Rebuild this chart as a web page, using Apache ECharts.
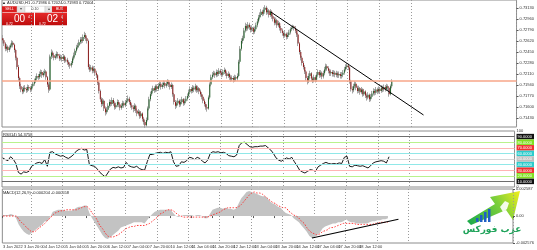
<!DOCTYPE html>
<html><head><meta charset="utf-8">
<script src="https://cdn.jsdelivr.net/npm/echarts@6/dist/echarts.min.js"></script>
<style>html,body{margin:0;padding:0;background:#fff;overflow:hidden}#c{width:537px;height:250px}</style>
</head><body><div id="c"></div>
<script>
// ---- data (AUDUSD H1) ----
const firstOpen = 0.7266;
const closes = [
0.7263,0.7258,0.7250,0.7253,0.7248,0.7252,0.7255,0.7259,0.7256,0.7248,
0.7236,0.7222,0.7205,0.7192,0.7187,0.7184,0.7190,0.7188,0.7186,0.7191,
0.7189,0.7187,0.7192,0.7196,0.7200,0.7204,0.7208,0.7206,0.7211,0.7214,
0.7209,0.7212,0.7215,0.7206,0.7195,0.7187,0.7238,0.7244,0.7240,0.7236,
0.7238,0.7242,0.7239,0.7235,0.7237,0.7234,0.7238,0.7232,0.7233,0.7229,
0.7226,0.7224,0.7228,0.7235,0.7240,0.7247,0.7252,0.7255,0.7260,0.7264,
0.7262,0.7268,0.7271,0.7266,0.7262,0.7222,0.7218,0.7221,0.7216,0.7219,
0.7213,0.7209,0.7198,0.7185,0.7172,0.7165,0.7170,0.7158,0.7152,0.7156,
0.7162,0.7168,0.7165,0.7171,0.7166,0.7160,0.7163,0.7168,0.7164,0.7159,
0.7162,0.7166,0.7163,0.7167,0.7170,0.7173,0.7168,0.7163,0.7160,0.7157,
0.7162,0.7155,0.7150,0.7153,0.7146,0.7150,0.7142,0.7137,0.7132,0.7140,
0.7158,0.7172,0.7180,0.7185,0.7189,0.7186,0.7192,0.7188,0.7193,0.7196,
0.7191,0.7194,0.7197,0.7193,0.7196,0.7199,0.7195,0.7191,0.7194,0.7180,
0.7168,0.7162,0.7166,0.7170,0.7164,0.7168,0.7172,0.7166,0.7169,0.7173,
0.7177,0.7183,0.7188,0.7185,0.7190,0.7187,0.7192,0.7186,0.7189,0.7184,
0.7180,0.7176,0.7170,0.7165,0.7160,0.7158,0.7175,0.7195,0.7206,0.7210,
0.7212,0.7209,0.7214,0.7211,0.7216,0.7213,0.7210,0.7214,0.7217,0.7212,
0.7208,0.7211,0.7206,0.7203,0.7205,0.7202,0.7206,0.7204,0.7208,0.7230,
0.7250,0.7262,0.7266,0.7278,0.7285,0.7281,0.7287,0.7283,0.7279,0.7282,
0.7276,0.7280,0.7286,0.7292,0.7298,0.7302,0.7307,0.7304,0.7310,0.7313,
0.7306,0.7309,0.7302,0.7307,0.7300,0.7296,0.7290,0.7294,0.7286,0.7289,
0.7282,0.7278,0.7274,0.7270,0.7273,0.7268,0.7271,0.7275,0.7280,0.7282,
0.7284,0.7282,0.7278,0.7272,0.7258,0.7245,0.7236,0.7228,0.7222,0.7215,
0.7205,0.7200,0.7208,0.7212,0.7204,0.7201,0.7206,0.7202,0.7210,0.7214,
0.7209,0.7213,0.7207,0.7212,0.7218,0.7223,0.7220,0.7216,0.7212,0.7214,
0.7211,0.7213,0.7210,0.7212,0.7209,0.7211,0.7208,0.7210,0.7213,0.7218,
0.7222,0.7224,0.7221,0.7200,0.7188,0.7186,0.7192,0.7196,0.7190,0.7185,
0.7189,0.7183,0.7187,0.7180,0.7184,0.7178,0.7175,0.7179,0.7172,0.7176,
0.7181,0.7185,0.7182,0.7187,0.7184,0.7188,0.7185,0.7190,0.7187,0.7191,
0.7188,0.7192,0.7190,0.7180,0.7192,0.7200];
const highs = [
0.7271,0.7266,0.7260,0.7257,0.7255,0.7255,0.7258,0.7263,0.7262,0.7258,
0.7250,0.7238,0.7225,0.7207,0.7196,0.7191,0.7193,0.7194,0.7191,0.7195,
0.7194,0.7192,0.7195,0.7199,0.7204,0.7208,0.7212,0.7211,0.7215,0.7218,
0.7217,0.7216,0.7219,0.7217,0.7208,0.7198,0.7241,0.7249,0.7247,0.7243,
0.7242,0.7246,0.7245,0.7242,0.7241,0.7240,0.7242,0.7240,0.7237,0.7236,
0.7232,0.7229,0.7231,0.7238,0.7244,0.7250,0.7256,0.7259,0.7264,0.7268,
0.7268,0.7272,0.7276,0.7274,0.7269,0.7264,0.7226,0.7225,0.7224,0.7223,
0.7221,0.7216,0.7211,0.7200,0.7187,0.7175,0.7174,0.7172,0.7161,0.7160,
0.7166,0.7172,0.7171,0.7175,0.7174,0.7169,0.7167,0.7172,0.7171,0.7167,
0.7166,0.7170,0.7169,0.7171,0.7174,0.7178,0.7176,0.7171,0.7166,0.7163,
0.7166,0.7164,0.7158,0.7157,0.7155,0.7154,0.7152,0.7145,0.7140,0.7144,
0.7161,0.7176,0.7184,0.7189,0.7193,0.7192,0.7195,0.7195,0.7197,0.7200,
0.7199,0.7198,0.7201,0.7200,0.7200,0.7203,0.7202,0.7198,0.7198,0.7196,
0.7182,0.7171,0.7170,0.7174,0.7172,0.7172,0.7176,0.7174,0.7173,0.7177,
0.7181,0.7187,0.7192,0.7191,0.7194,0.7193,0.7196,0.7194,0.7193,0.7191,
0.7187,0.7183,0.7179,0.7173,0.7168,0.7164,0.7178,0.7198,0.7210,0.7214,
0.7216,0.7215,0.7218,0.7217,0.7220,0.7219,0.7216,0.7218,0.7221,0.7219,
0.7215,0.7215,0.7213,0.7209,0.7209,0.7208,0.7210,0.7209,0.7212,0.7233,
0.7254,0.7266,0.7270,0.7282,0.7290,0.7288,0.7291,0.7290,0.7286,0.7286,
0.7284,0.7284,0.7290,0.7296,0.7302,0.7306,0.7311,0.7310,0.7314,0.7317,
0.7316,0.7313,0.7311,0.7311,0.7309,0.7303,0.7299,0.7298,0.7296,0.7293,
0.7291,0.7285,0.7281,0.7277,0.7277,0.7275,0.7275,0.7279,0.7283,0.7285,
0.7287,0.7286,0.7285,0.7280,0.7274,0.7260,0.7248,0.7239,0.7231,0.7225,
0.7217,0.7208,0.7212,0.7216,0.7214,0.7207,0.7210,0.7209,0.7214,0.7218,
0.7217,0.7217,0.7215,0.7216,0.7222,0.7227,0.7226,0.7223,0.7219,0.7218,
0.7217,0.7217,0.7216,0.7216,0.7215,0.7215,0.7214,0.7214,0.7217,0.7222,
0.7226,0.7228,0.7227,0.7223,0.7202,0.7192,0.7196,0.7200,0.7199,0.7193,
0.7193,0.7191,0.7191,0.7189,0.7188,0.7186,0.7181,0.7183,0.7181,0.7180,
0.7185,0.7189,0.7188,0.7191,0.7190,0.7192,0.7191,0.7194,0.7193,0.7195,
0.7194,0.7196,0.7195,0.7192,0.7195,0.7203];
const lows = [
0.7258,0.7254,0.7246,0.7247,0.7244,0.7245,0.7249,0.7252,0.7252,0.7244,
0.7232,0.7218,0.7200,0.7188,0.7183,0.7180,0.7181,0.7184,0.7182,0.7183,
0.7185,0.7183,0.7184,0.7189,0.7193,0.7197,0.7201,0.7202,0.7203,0.7207,
0.7205,0.7206,0.7209,0.7202,0.7191,0.7182,0.7185,0.7234,0.7236,0.7232,
0.7233,0.7235,0.7235,0.7231,0.7232,0.7230,0.7231,0.7228,0.7229,0.7225,
0.7222,0.7219,0.7221,0.7225,0.7232,0.7237,0.7244,0.7249,0.7252,0.7257,
0.7258,0.7259,0.7265,0.7262,0.7258,0.7218,0.7214,0.7215,0.7212,0.7213,
0.7209,0.7205,0.7194,0.7181,0.7168,0.7160,0.7162,0.7154,0.7147,0.7149,
0.7153,0.7159,0.7161,0.7162,0.7162,0.7156,0.7157,0.7160,0.7160,0.7155,
0.7156,0.7159,0.7159,0.7160,0.7164,0.7167,0.7164,0.7159,0.7156,0.7152,
0.7154,0.7151,0.7146,0.7147,0.7142,0.7143,0.7138,0.7133,0.7128,0.7130,
0.7138,0.7155,0.7169,0.7177,0.7182,0.7182,0.7183,0.7184,0.7185,0.7190,
0.7187,0.7188,0.7191,0.7189,0.7190,0.7193,0.7191,0.7187,0.7188,0.7176,
0.7164,0.7157,0.7159,0.7163,0.7160,0.7161,0.7165,0.7162,0.7163,0.7166,
0.7170,0.7174,0.7180,0.7181,0.7182,0.7183,0.7184,0.7182,0.7183,0.7180,
0.7176,0.7172,0.7166,0.7161,0.7156,0.7153,0.7156,0.7172,0.7192,0.7203,
0.7207,0.7205,0.7206,0.7207,0.7208,0.7209,0.7206,0.7207,0.7211,0.7208,
0.7204,0.7205,0.7202,0.7199,0.7200,0.7198,0.7199,0.7200,0.7201,0.7206,
0.7227,0.7247,0.7258,0.7263,0.7275,0.7277,0.7278,0.7279,0.7275,0.7276,
0.7272,0.7273,0.7277,0.7283,0.7289,0.7295,0.7299,0.7300,0.7301,0.7307,
0.7302,0.7303,0.7298,0.7299,0.7296,0.7292,0.7286,0.7287,0.7282,0.7283,
0.7278,0.7274,0.7270,0.7266,0.7267,0.7264,0.7265,0.7268,0.7272,0.7277,
0.7280,0.7278,0.7274,0.7268,0.7254,0.7241,0.7232,0.7224,0.7218,0.7211,
0.7201,0.7195,0.7197,0.7204,0.7200,0.7197,0.7198,0.7198,0.7199,0.7207,
0.7205,0.7206,0.7203,0.7204,0.7209,0.7215,0.7216,0.7212,0.7208,0.7208,
0.7207,0.7207,0.7206,0.7206,0.7205,0.7205,0.7204,0.7204,0.7206,0.7210,
0.7215,0.7219,0.7217,0.7196,0.7184,0.7181,0.7183,0.7189,0.7186,0.7181,
0.7182,0.7179,0.7180,0.7176,0.7177,0.7174,0.7170,0.7172,0.7168,0.7169,
0.7173,0.7178,0.7178,0.7179,0.7180,0.7181,0.7181,0.7182,0.7183,0.7184,
0.7184,0.7185,0.7186,0.7176,0.7178,0.7189];
// indicator values, one reading every 2 bars
const rsiValues = [
52,49,47,54,50,42,26,23,27,26,28,37,40,43,44,42,49,37,62,63,
59,57,55,56,53,51,54,58,64,67,69,66,67,40,38,37,32,26,22,18,
25,32,35,34,36,34,35,44,38,36,35,37,33,31,30,45,58,58,60,61,
62,60,62,61,63,45,37,38,45,44,47,53,52,49,53,51,46,43,48,60,
63,62,63,61,62,60,56,55,54,57,74,79,80,76,72,71,72,72,73,73,
74,70,66,60,52,48,46,49,52,50,53,45,38,30,27,25,28,31,30,28,
36,39,42,44,42,41,42,41,43,42,53,55,37,36,39,38,37,38,36,34,
38,43,45,46,47,46,43,54];
const macdMain = [
0.0001,0.0001,0.0001,0.0002,0.0001,-0.0002,-0.0008,-0.0012,-0.0015,-0.0017,
-0.0018,-0.0016,-0.0014,-0.0012,-0.0010,-0.0008,-0.0005,-0.0005,-0.0001,0.0004,
0.0005,0.0006,0.0006,0.0006,0.0005,0.0005,0.0005,0.0006,0.0008,0.0009,
0.0009,0.0010,0.0010,0.0003,-0.0002,-0.0006,-0.0010,-0.0014,-0.0018,-0.0021,
-0.0022,-0.0020,-0.0018,-0.0016,-0.0014,-0.0011,-0.0010,-0.0009,-0.0008,-0.0007,
-0.0006,-0.0006,-0.0006,-0.0006,-0.0007,-0.0004,-0.0001,0.0002,0.0004,0.0005,
0.0006,0.0006,0.0006,0.0006,0.0006,0.0003,0.0000,-0.0001,0.0000,0.0001,
0.0001,0.0001,0.0001,0.0000,0.0001,0.0001,0.0000,-0.0002,-0.0002,0.0002,
0.0006,0.0007,0.0008,0.0008,0.0007,0.0008,0.0007,0.0007,0.0006,0.0007,
0.0012,0.0017,0.0020,0.0023,0.0024,0.0023,0.0022,0.0021,0.0020,0.0019,
0.0019,0.0017,0.0014,0.0012,0.0011,0.0009,0.0008,0.0005,0.0003,0.0002,
0.0001,-0.0002,-0.0004,-0.0006,-0.0009,-0.0012,-0.0015,-0.0019,-0.0021,-0.0020,
-0.0018,-0.0016,-0.0012,-0.0010,-0.0009,-0.0008,-0.0007,-0.0007,-0.0006,-0.0006,
-0.0005,-0.0003,-0.0005,-0.0006,-0.0006,-0.0007,-0.0007,-0.0007,-0.0007,-0.0007,
-0.0006,-0.0005,-0.0005,-0.0004,-0.0004,-0.0003,-0.0003,-0.0002];
const macdSignal = [
0.0000,0.0000,0.0000,0.0000,0.0000,0.0000,-0.0003,-0.0006,-0.0008,-0.0011,
-0.0013,-0.0015,-0.0015,-0.0013,-0.0011,-0.0009,-0.0007,-0.0004,-0.0002,0.0001,
0.0003,0.0004,0.0005,0.0005,0.0006,0.0006,0.0006,0.0006,0.0006,0.0007,
0.0008,0.0009,0.0009,0.0007,0.0003,0.0000,-0.0004,-0.0009,-0.0012,-0.0016,
-0.0019,-0.0020,-0.0020,-0.0019,-0.0018,-0.0016,-0.0014,-0.0012,-0.0011,-0.0010,
-0.0010,-0.0009,-0.0009,-0.0009,-0.0009,-0.0008,-0.0007,-0.0005,-0.0003,-0.0001,
0.0002,0.0003,0.0005,0.0006,0.0006,0.0005,0.0003,0.0001,0.0000,-0.0001,
-0.0001,-0.0001,-0.0001,-0.0001,-0.0001,-0.0001,-0.0001,-0.0001,-0.0001,0.0000,
0.0001,0.0002,0.0003,0.0004,0.0006,0.0007,0.0008,0.0008,0.0008,0.0008,
0.0009,0.0011,0.0014,0.0017,0.0020,0.0022,0.0023,0.0022,0.0022,0.0021,
0.0019,0.0017,0.0015,0.0013,0.0012,0.0010,0.0009,0.0008,0.0008,0.0005,
0.0003,0.0001,0.0000,-0.0002,-0.0005,-0.0007,-0.0011,-0.0014,-0.0016,-0.0017,
-0.0018,-0.0017,-0.0015,-0.0014,-0.0013,-0.0011,-0.0011,-0.0010,-0.0009,-0.0008,
-0.0007,-0.0007,-0.0007,-0.0007,-0.0007,-0.0008,-0.0008,-0.0008,-0.0008,-0.0008,
-0.0008,-0.0008,-0.0007,-0.0007,-0.0006,-0.0006,-0.0006,-0.0006];
const tickLabels = ['3 Jan 2022','3 Jan 20:00','4 Jan 12:00','5 Jan 04:00','5 Jan 20:00','6 Jan 12:00',
 '7 Jan 04:00','7 Jan 20:00','10 Jan 12:00','11 Jan 04:00','11 Jan 20:00','12 Jan 12:00','13 Jan 04:00',
 '13 Jan 20:00','14 Jan 12:00','17 Jan 04:00','17 Jan 20:00','18 Jan 12:00','19 Jan 04:00'];
const priceTicks = [0.73130,0.72960,0.72790,0.72620,0.72450,0.72280,0.72110,0.71940,0.71770,0.71600,0.71430,0.71260];
const rsiLevels = [90,80,70,60,50,40,30,20,10];
const macdTicks = [0.002587,0,-0.002576];
const supportLevel = 0.7201;
const lastPrice = 0.72004;
const priceTrend = [[203,0.73069],[319,0.71479]];
const macdTrend = [[236,-0.0021],[302,-0.0003]];

// ---- chart ----
const SLOTS = 390;
const cats = Array.from({length:SLOTS},(_,i)=>String(i));
const opens = closes.map((c,i)=> i===0 ? firstOpen : closes[i-1]);
const candleData = closes.map((c,i)=>[opens[i],c,lows[i],highs[i]]);
const bodyData = closes.map((c,i)=>[i,opens[i],c]);
const rsiData = rsiValues.map((v,j)=>[j*2,v]);
const macdData = macdMain.map((v,j)=>[j*2,v]);
const sigData = macdSignal.map((v,j)=>[j*2,v]);
const FONT = 'Liberation Sans';
const gridLineAt = (i)=> i>=22 && i<=310 && (i-22)%24===0;
const labelAt = (i)=> i%16===0 && i/16 < tickLabels.length;

function mkX(gi, labels){
  return {
    type:'category', gridIndex:gi, data:cats, boundaryGap:true,
    axisLine:{show:false},
    axisTick: labels ? {show:true, interval:labelAt, length:2, lineStyle:{color:'#555'}} : {show:false},
    axisLabel: labels ? {show:true, interval:labelAt, formatter:(v)=>tickLabels[Number(v)/16]||'',
      fontSize:4, color:'#333', margin:2, align:'left', fontFamily:FONT} : {show:false},
    splitLine:{show:true, interval:gridLineAt, lineStyle:{color:'#9a9a9a', type:[1,2], width:1}}
  };
}
const levelColors = {90:'#6e6e6e',80:'#b9f28c',70:'#ffb4b4',60:'#90e8e8',50:'#d6d6d6',40:'#90e8e8',30:'#ffb4b4',20:'#b9f28c',10:'#6e6e6e'};
const boxBg = {90:'#111',80:'#7fe020',70:'#f03030',60:'#2ccccc',50:'#bdbdbd',40:'#2ccccc',30:'#f03030',20:'#7fe020',10:'#111'};
const rich = {};
rsiLevels.forEach(l=>{ rich['l'+l] = {backgroundColor:boxBg[l], color:'#fff', fontSize:4, padding:[1,2,0.5,1], fontFamily:FONT}; });

const chart = echarts.init(document.getElementById('c'), null, {renderer:'canvas'});
chart.setOption({
  animation:false,
  backgroundColor:'#fff',
  grid:[
    {left:2, right:16, top:0, height:127, show:true, borderColor:'#8c8c8c', borderWidth:1},
    {left:2, right:16, top:131, height:56, show:true, borderColor:'#8c8c8c', borderWidth:1},
    {left:2, right:16, top:189, height:54, show:true, borderColor:'#8c8c8c', borderWidth:1}
  ],
  xAxis:[mkX(0,false), mkX(1,false), mkX(2,true)],
  yAxis:[
    {type:'value', gridIndex:0, position:'right', min:0.71294, max:0.73250, scale:true,
     axisLine:{show:false}, splitLine:{show:false},
     axisTick:{show:true, customValues:priceTicks, length:2, lineStyle:{color:'#555'}},
     axisLabel:{customValues:priceTicks, formatter:(v)=>v.toFixed(5), fontSize:4, color:'#333', margin:3, fontFamily:FONT}},
    {type:'value', gridIndex:1, position:'right', min:0, max:100,
     axisLine:{show:false}, splitLine:{show:false}, axisTick:{show:false},
     axisLabel:{customValues:[100,90,80,70,60,50,40,30,20,10,0], fontSize:4, color:'#333', margin:2, fontFamily:FONT, rich:rich,
       formatter:(v)=> (v===100||v===0) ? String(v) : '{l'+v+'|'+v.toFixed(4)+'}'}},
    {type:'value', gridIndex:2, position:'right', min:-0.002576, max:0.002587,
     axisLine:{show:false}, splitLine:{show:false},
     axisTick:{show:true, customValues:macdTicks, length:2, lineStyle:{color:'#555'}},
     axisLabel:{customValues:macdTicks, fontSize:4, color:'#333', margin:3, fontFamily:FONT,
       formatter:(v)=> v===0 ? '0.00' : v.toFixed(6)}}
  ],
  series:[
    {type:'candlestick', xAxisIndex:0, yAxisIndex:0, data:candleData, barWidth:1,
     itemStyle:{color:'#9c9c9c', color0:'#9c9c9c', borderColor:'#9c9c9c', borderColor0:'#9c9c9c', borderWidth:0.9},
     markLine:{silent:true, symbol:['none','none'], animation:false,
       data:[
         {yAxis:supportLevel, lineStyle:{color:'#f7a688', width:1.6, type:'solid'}, label:{show:false}},
         {yAxis:lastPrice, lineStyle:{opacity:0}, label:{show:true, position:'end', distance:2, formatter:lastPrice.toFixed(5),
            backgroundColor:'#000', color:'#fff', fontSize:4, padding:[1,2,0.5,1], fontFamily:FONT}}
       ]}},
    {type:'custom', xAxisIndex:0, yAxisIndex:0, data:bodyData, z:3,
     renderItem:(params, api)=>{
       const a = api.coord([api.value(0), api.value(1)]);
       const b = api.coord([api.value(0), api.value(2)]);
       const w = api.size([1,0])[0];
       const up = api.value(2) >= api.value(1);
       const top = Math.min(a[1],b[1]);
       return {type:'rect', shape:{x:a[0]-w*0.38, y:top, width:w*0.76, height:Math.max(0.8,Math.abs(b[1]-a[1]))},
         style:{fill: up ? '#23602a' : '#8f1d1d'}};
     }},
    {type:'line', xAxisIndex:0, yAxisIndex:0, data:priceTrend, symbol:'none', z:4,
     lineStyle:{color:'#000', width:1}},
    {type:'line', xAxisIndex:1, yAxisIndex:1, data:rsiData, symbol:'none', z:4,
     lineStyle:{color:'#000', width:0.9},
     markLine:{silent:true, symbol:['none','none'], animation:false, label:{show:false},
       data: rsiLevels.map(l=>({yAxis:l, lineStyle:{color:levelColors[l], width:1, type:'solid'}}))}},
    {type:'line', xAxisIndex:2, yAxisIndex:2, data:macdData, symbol:'none', z:2,
     lineStyle:{width:0}, areaStyle:{color:'#c3c3c3', opacity:1}},
    {type:'line', xAxisIndex:2, yAxisIndex:2, data:sigData, symbol:'none', z:3, smooth:0.3,
     lineStyle:{color:'#ff2a2a', width:0.9, type:[1.5,1.5]}},
    {type:'line', xAxisIndex:2, yAxisIndex:2, data:macdTrend, symbol:'none', z:4,
     lineStyle:{color:'#000', width:1.1}}
  ],
  graphic:[
    {type:'text', left:2, top:1, style:{text:'▲ AUDUSD,H1  0.71986 0.72024 0.71983 0.72004', fontSize:4, fill:'#222', fontFamily:FONT}},
    {type:'text', left:3, top:133, style:{text:'RSI(14) 54.3758', fontSize:4, fill:'#222', fontFamily:FONT}},
    {type:'text', left:3, top:191, style:{text:'MACD(12,26,9) -0.000204 -0.000558', fontSize:4, fill:'#222', fontFamily:FONT}},
    // one-click trading panel
    {type:'group', left:2, top:6, children:[
      {type:'rect', shape:{x:0,y:0,width:15,height:6}, style:{fill:'#d81e1e'}},
      {type:'text', style:{x:7.5,y:3,text:'SELL', fontSize:3.5, fill:'#fff', align:'center', verticalAlign:'middle', fontFamily:FONT}},
      {type:'rect', shape:{x:15,y:0,width:8,height:6}, style:{fill:'#e4e4e4', stroke:'#c8c8c8', lineWidth:0.5}},
      {type:'text', style:{x:19,y:3,text:'▾', fontSize:4, fill:'#555', align:'center', verticalAlign:'middle'}},
      {type:'rect', shape:{x:23,y:0,width:20,height:6}, style:{fill:'#fff', stroke:'#c8c8c8', lineWidth:0.5}},
      {type:'text', style:{x:33,y:3,text:'0.10', fontSize:3.5, fill:'#333', align:'center', verticalAlign:'middle', fontFamily:FONT}},
      {type:'rect', shape:{x:43,y:0,width:7,height:6}, style:{fill:'#e4e4e4', stroke:'#c8c8c8', lineWidth:0.5}},
      {type:'text', style:{x:46.5,y:3,text:'▴', fontSize:4, fill:'#555', align:'center', verticalAlign:'middle'}},
      {type:'rect', shape:{x:50,y:0,width:15,height:6}, style:{fill:'#d81e1e'}},
      {type:'text', style:{x:57.5,y:3,text:'BUY', fontSize:3.5, fill:'#fff', align:'center', verticalAlign:'middle', fontFamily:FONT}},
      {type:'rect', shape:{x:0,y:6.5,width:32,height:12.5}, style:{fill:new echarts.graphic.LinearGradient(0,0,0,1,[{offset:0,color:'#e52a2a'},{offset:1,color:'#bd0c0c'}])}},
      {type:'rect', shape:{x:33,y:6.5,width:32,height:12.5}, style:{fill:new echarts.graphic.LinearGradient(0,0,0,1,[{offset:0,color:'#e52a2a'},{offset:1,color:'#bd0c0c'}])}},
      {type:'text', style:{x:4,y:15.5,text:'0.72', fontSize:3.5, fill:'#fff', fontFamily:FONT}},
      {type:'text', style:{x:12,y:8,text:'00', fontSize:10, fill:'#fff', fontFamily:FONT}},
      {type:'text', style:{x:26,y:8.5,text:'4', fontSize:3.5, fill:'#fff', fontFamily:FONT}},
      {type:'text', style:{x:37,y:15.5,text:'0.72', fontSize:3.5, fill:'#fff', fontFamily:FONT}},
      {type:'text', style:{x:45,y:8,text:'02', fontSize:10, fill:'#fff', fontFamily:FONT}},
      {type:'text', style:{x:59,y:8.5,text:'4', fontSize:3.5, fill:'#fff', fontFamily:FONT}}
    ]},
    // logo
    {type:'polygon', shape:{points:[[467,221],[495,204],[490,197],[520,191],[513,220],[506,210],[471,225]]},
     style:{fill:new echarts.graphic.LinearGradient(0,1,1,0,[{offset:0,color:'#17a84c'},{offset:0.6,color:'#7ccf3a'},{offset:1,color:'#f2ee1e'}])}},
    {type:'polygon', shape:{points:[[500,207],[505,201],[509,203],[507,209],[503,212]]}, style:{fill:'#ffffff', opacity:0.9}},
    {type:'rect', shape:{x:476,y:218,width:2.5,height:4}, style:{fill:'#1f5fc4'}},
    {type:'rect', shape:{x:480,y:215,width:2.5,height:7}, style:{fill:'#1f5fc4'}},
    {type:'rect', shape:{x:484,y:212,width:2.5,height:10}, style:{fill:'#1f5fc4'}},
    {type:'rect', shape:{x:488,y:209,width:2.5,height:13}, style:{fill:'#1f5fc4'}},
    {type:'text', style:{x:492,y:230,text:'عرب فوركس', fontSize:9, fontWeight:'bold', fill:'#1fa35a', align:'center', verticalAlign:'middle', fontFamily:'DejaVu Sans'}}
  ]
});
</script>
</body></html>
